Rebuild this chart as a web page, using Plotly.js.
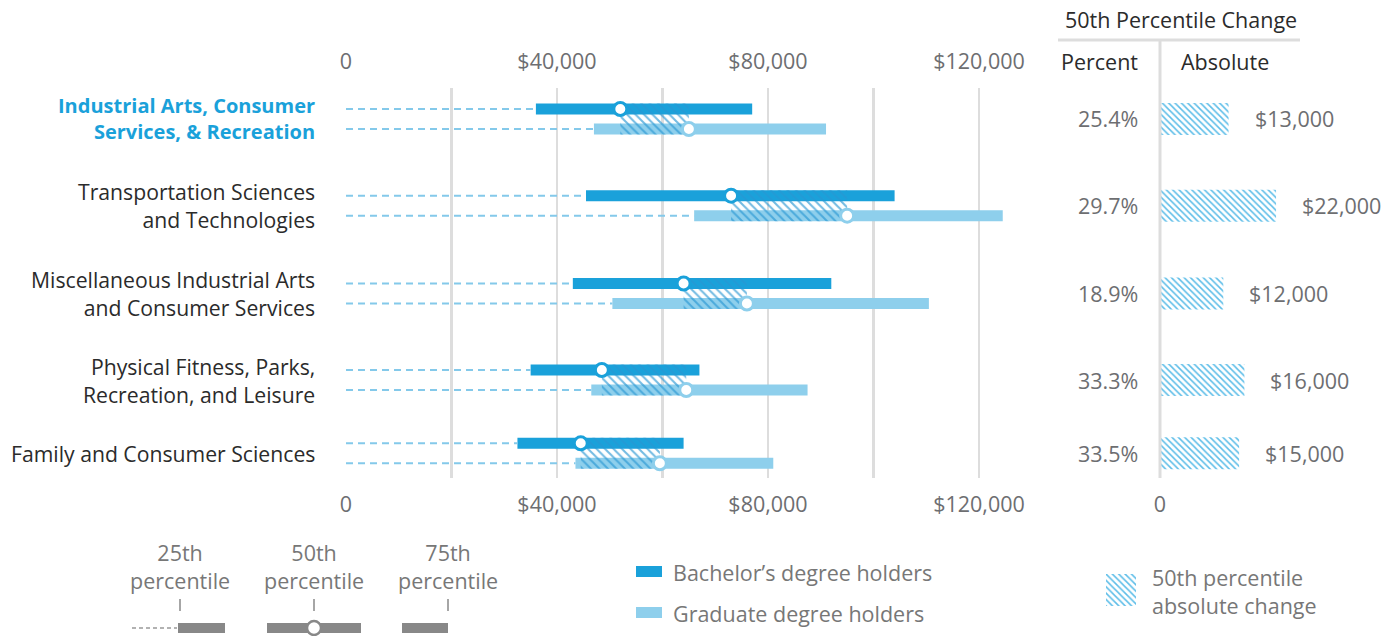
<!DOCTYPE html>
<html><head><meta charset="utf-8">
<script src="https://cdn.plot.ly/plotly-3.0.1.min.js"></script>
<style>html,body{margin:0;padding:0;background:#fff}#chart{width:1398px;height:636px}</style>
</head><body><div id="chart"></div>
<script>
// ---- data ----
const categories = ["Industrial Arts, Consumer<br>Services, & Recreation", "Transportation Sciences<br>and Technologies", "Miscellaneous Industrial Arts<br>and Consumer Services", "Physical Fitness, Parks,<br>Recreation, and Leisure", "Family and Consumer Sciences"];
const bachP25 = [36000, 45500, 43000, 35000, 32500];
const bachP50 = [52000, 73000, 64000, 48500, 44500];
const bachP75 = [77000, 104000, 92000, 67000, 64000];
const gradP25 = [47000, 66000, 50500, 46500, 43500];
const gradP50 = [65000, 95000, 76000, 64500, 59500];
const gradP75 = [91000, 124500, 110500, 87500, 81000];
const pctChange = ["25.4%", "29.7%", "18.9%", "33.3%", "33.5%"];
const absChange = [13000, 22000, 12000, 16000, 15000];
const absLabels = ["$13,000", "$22,000", "$12,000", "$16,000", "$15,000"];
const tickVals = [0, 20000, 40000, 60000, 80000, 100000, 120000];
const tickText = ["0", "", "$40,000", "", "$80,000", "", "$120,000"];

// ---- layout constants ----
const W = 1398, H = 636;
const ROW_Y = [31, 117.7, 205.5, 292, 365.3]; // row centres (y units = px inside plot)
const OFF = 10;
const BACH = '#1aa1da', GRAD = '#8ecfec', GRID = '#dddddd';
const FONT = 'Open Sans, sans-serif';
const TXT = '#2b2b2b', GRAYTXT = '#6d6e71';
const px = p => p / W, py = p => 1 - p / H;

const yB = ROW_Y.map(v => v - OFF), yG = ROW_Y.map(v => v + OFF);

// dashed lead lines
const dx = [], dy = [];
categories.forEach((c, i) => {
  dx.push(0, bachP25[i], null); dy.push(yB[i], yB[i], null);
  dx.push(0, gradP25[i], null); dy.push(yG[i], yG[i], null);
});

const traces = [
  {type: 'scatter', mode: 'lines', x: dx, y: dy, xaxis: 'x', yaxis: 'y',
   line: {color: '#84c9ea', width: 2, dash: '7px,5px'}, hoverinfo: 'skip'},
  {type: 'bar', orientation: 'h', y: yB, base: bachP25, x: bachP75.map((v, i) => v - bachP25[i]),
   width: 11, marker: {color: BACH, line: {width: 0}}, xaxis: 'x', yaxis: 'y'},
  {type: 'bar', orientation: 'h', y: yG, base: gradP25, x: gradP75.map((v, i) => v - gradP25[i]),
   width: 11, marker: {color: GRAD, line: {width: 0}}, xaxis: 'x', yaxis: 'y'},
  {type: 'bar', orientation: 'h', y: ROW_Y, base: bachP50, x: gradP50.map((v, i) => v - bachP50[i]),
   width: 31, xaxis: 'x', yaxis: 'y',
   marker: {color: 'rgba(0,0,0,0)', line: {width: 0},
     pattern: {shape: '\\', fgcolor: 'rgba(40,150,210,0.65)', bgcolor: 'rgba(0,0,0,0)', size: 6, solidity: 0.35}}},
  {type: 'scatter', mode: 'markers', x: bachP50, y: yB, xaxis: 'x', yaxis: 'y',
   marker: {size: 13, color: '#fff', line: {color: BACH, width: 3}}},
  {type: 'scatter', mode: 'markers', x: gradP50, y: yG, xaxis: 'x', yaxis: 'y',
   marker: {size: 13, color: '#fff', line: {color: GRAD, width: 3}}},
  // right panel absolute change
  {type: 'bar', orientation: 'h', y: ROW_Y, x: absChange, width: 32, xaxis: 'x2', yaxis: 'y',
   marker: {color: 'rgba(0,0,0,0)', line: {width: 0},
     pattern: {shape: '\\', fgcolor: '#5cbde8', bgcolor: 'rgba(0,0,0,0)', size: 4.5, solidity: 0.35}}},
  // legend hatch swatch
  {type: 'bar', x: [0], y: [1], width: 1, xaxis: 'x4', yaxis: 'y2',
   marker: {color: 'rgba(0,0,0,0)', line: {width: 0},
     pattern: {shape: '\\', fgcolor: '#5cbde8', bgcolor: 'rgba(0,0,0,0)', size: 4.5, solidity: 0.35}}}
];

const annotations = [];
categories.forEach((c, i) => {
  annotations.push({xref: 'paper', yref: 'y', x: px(317), y: ROW_Y[i], xanchor: 'right', yanchor: 'middle',
    text: i === 0 ? '<b>' + c + '</b>' : c, showarrow: false, align: 'right',
    font: {family: FONT, size: i === 0 ? 20 : 21.2, color: i === 0 ? BACH : TXT}});
  annotations.push({xref: 'paper', yref: 'y', x: px(1140), y: ROW_Y[i], xanchor: 'right', yanchor: 'middle',
    text: pctChange[i], showarrow: false, font: {family: FONT, size: 21.5, color: GRAYTXT}});
  annotations.push({xref: 'x2', yref: 'y', x: absChange[i], y: ROW_Y[i], xanchor: 'left', yanchor: 'middle', xshift: 24,
    text: absLabels[i], showarrow: false, font: {family: FONT, size: 21.5, color: GRAYTXT}});
});
const pa = (x, y, text, xanchor, color, size) => annotations.push({xref: 'paper', yref: 'paper', x: px(x), y: py(y),
  xanchor: xanchor, yanchor: 'middle', text: text, showarrow: false, align: xanchor === 'center' ? 'center' : 'left',
  font: {family: FONT, size: size || 21.5, color: color}});
pa(1181, 19, '50th Percentile Change', 'center', TXT);
pa(1140, 62, 'Percent', 'right', TXT);
pa(1179, 62, 'Absolute', 'left', TXT);
pa(180, 566, '25th<br>percentile', 'center', '#777');
pa(314, 566, '50th<br>percentile', 'center', '#777');
pa(448, 566, '75th<br>percentile', 'center', '#777');
pa(671, 572, 'Bachelor’s degree holders', 'left', '#777');
pa(671, 613, 'Graduate degree holders', 'left', '#777');
pa(1150, 591, '50th percentile<br>absolute change', 'left', '#777');

const rect = (x0, y0, x1, y1, color) => ({type: 'rect', xref: 'paper', yref: 'paper', x0: px(x0), x1: px(x1), y0: py(y1), y1: py(y0), fillcolor: color, line: {width: 0}});
const line = (x0, y0, x1, y1, color, width, dash) => ({type: 'line', xref: 'paper', yref: 'paper', x0: px(x0), x1: px(x1), y0: py(y0), y1: py(y1), line: {color: color, width: width, dash: dash || 'solid'}});
const shapes = [
  line(1058, 40, 1300, 40, GRID, 3),
  line(1160, 40, 1160, 478, GRID, 3),
  line(180, 599, 180, 611, '#888', 1.5),
  line(314, 599, 314, 611, '#888', 1.5),
  line(448, 599, 448, 611, '#888', 1.5),
  line(132, 628, 177, 628, '#999', 1.5, '4px,3px'),
  rect(178, 623, 225, 633, '#888'),
  rect(267, 623, 361, 633, '#888'),
  {type: 'circle', xref: 'paper', yref: 'paper', x0: px(307), x1: px(321), y0: py(635), y1: py(621), fillcolor: '#fff', line: {color: '#888', width: 2.5}},
  rect(402, 623, 448, 633, '#888'),
  rect(636, 566, 662, 577, BACH),
  rect(636, 607, 662, 618, GRAD)
];

const axFont = {family: FONT, size: 21.5, color: GRAYTXT};
const xDom = [px(346), px(346 + 130000 * 0.005275)];
const layout = {
  width: W, height: H, autosize: false, showlegend: false, barmode: 'overlay',
  margin: {l: 0, r: 0, t: 0, b: 0}, paper_bgcolor: '#fff', plot_bgcolor: 'rgba(0,0,0,0)',
  font: {family: FONT},
  xaxis: {domain: xDom, range: [0, 130000], anchor: 'y', side: 'bottom', tickmode: 'array', tickvals: tickVals, ticktext: tickText,
    showgrid: true, gridcolor: GRID, gridwidth: 2.5, zeroline: false, showline: false, ticks: '', tickfont: axFont, ticklabelstandoff: 11, fixedrange: true},
  xaxis3: {domain: xDom, range: [0, 130000], overlaying: 'x', anchor: 'y', side: 'top', tickmode: 'array', tickvals: tickVals, ticktext: tickText,
    showgrid: false, zeroline: false, showline: false, ticks: '', tickfont: axFont, ticklabelstandoff: 14},
  xaxis2: {domain: [px(1160), 1], range: [0, (W - 1160) / 0.005275], anchor: 'y', tickmode: 'array', tickvals: [0], ticktext: ['0'],
    showgrid: false, zeroline: false, showline: false, ticks: '', tickfont: axFont, ticklabelstandoff: 11},
  yaxis: {domain: [py(478), py(88)], range: [390, 0], visible: false, showgrid: false, zeroline: false},
  xaxis4: {domain: [px(1106), px(1136)], range: [-0.5, 0.5], anchor: 'y2', visible: false},
  yaxis2: {domain: [py(606), py(574)], range: [0, 1], anchor: 'x4', visible: false},
  annotations: annotations, shapes: shapes
};
// invisible point so the top label axis renders
traces.push({type: 'scatter', mode: 'markers', x: [0], y: [0], xaxis: 'x3', yaxis: 'y', marker: {opacity: 0}, hoverinfo: 'skip'});
Plotly.newPlot('chart', traces, layout, {displayModeBar: false, staticPlot: true});
</script></body></html>
